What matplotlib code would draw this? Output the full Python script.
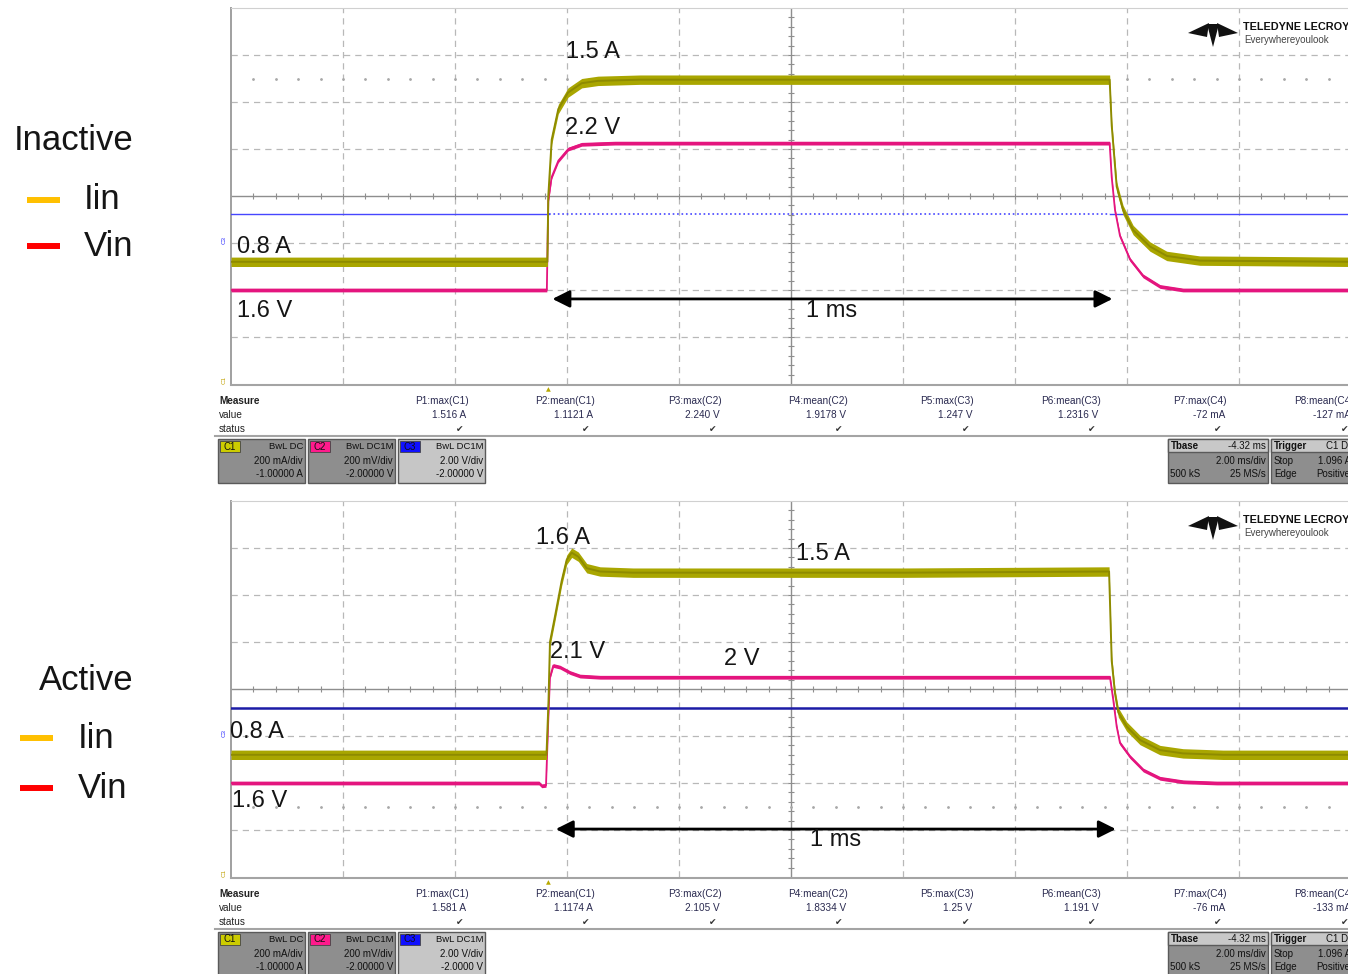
import numpy as np
import matplotlib.pyplot as plt
from matplotlib.patches import Rectangle, Polygon
from matplotlib.lines import Line2D

plt.rcParams['font.family'] = ['Liberation Sans', 'DejaVu Sans']

W, H = 1348, 974

# time in ms (0.2 ms/div), Iin in A (C1), Vin in V (C2), C3 in V
# --- Inactive capture ---
t_iin_off = [0, 0.565, 0.5666, 0.5727, 0.5845, 0.6018, 0.6263, 0.6554, 0.73, 1.20,
             1.5690, 1.5727, 1.5816, 1.593, 1.611, 1.641, 1.671, 1.730, 2.0]
iin_off = [0.72, 0.72, 1.00, 1.24, 1.37, 1.44, 1.48, 1.49, 1.495, 1.495,
           1.495, 1.30, 1.04, 0.94, 0.855, 0.785, 0.745, 0.725, 0.72]
t_vin_off = [0, 0.564, 0.5666, 0.5725, 0.5845, 0.6023, 0.6263, 0.686,
             1.5690, 1.5727, 1.5786, 1.5875, 1.6054, 1.6286, 1.6589, 1.70, 2.0]
vin_off = [1.60, 1.60, 1.98, 2.08, 2.15, 2.20, 2.22, 2.225,
           2.225, 2.08, 1.94, 1.83, 1.73, 1.66, 1.615, 1.60, 1.60]
t_c3_off = [0, 0.567, 1.569, 2.0]
c3_off = [1.234, 1.25, 1.234]

# --- Active capture ---
t_iin_on = [0, 0.5634, 0.567, 0.5696, 0.5786, 0.5905, 0.5995, 0.6084, 0.6202, 0.6352,
            0.659, 0.718, 1.20, 1.5680, 1.5727, 1.5786, 1.5845, 1.5995, 1.6232, 1.6589,
            1.70, 1.7714, 2.0]
iin_on = [0.72, 0.72, 0.95, 1.20, 1.31, 1.46, 1.55, 1.58, 1.563, 1.514,
          1.50, 1.495, 1.495, 1.50, 1.12, 0.98, 0.90, 0.84, 0.783, 0.74,
          0.726, 0.72, 0.72]
t_vin_on = [0, 0.55, 0.5548, 0.5625, 0.5666, 0.5696, 0.5755, 0.5875, 0.6054, 0.6232,
            0.659, 1.5696, 1.5755, 1.5816, 1.5875, 1.6054, 1.6291, 1.6589, 1.7005,
            1.7601, 2.0]
vin_on = [1.60, 1.60, 1.588, 1.59, 1.87, 2.05, 2.10, 2.093, 2.07, 2.055,
          2.05, 2.05, 1.953, 1.84, 1.77, 1.712, 1.655, 1.62, 1.605,
          1.60, 1.60]
t_c3_on = [0, 2.0]
c3_on = [1.19]

pulse_ms = 1.0

meas_names = ["P1:max(C1)", "P2:mean(C1)", "P3:max(C2)", "P4:mean(C2)",
              "P5:max(C3)", "P6:mean(C3)", "P7:max(C4)", "P8:mean(C4)"]
meas_off = ["1.516 A", "1.1121 A", "2.240 V", "1.9178 V",
            "1.247 V", "1.2316 V", "-72 mA", "-127 mA"]
meas_on = ["1.581 A", "1.1174 A", "2.105 V", "1.8334 V",
           "1.25 V", "1.191 V", "-76 mA", "-133 mA"]

ch_names = ["C1", "C2", "C3"]
ch_coupling = ["BwL DC", "BwL DC1M", "BwL DC1M"]
ch_scale = ["200 mA/div", "200 mV/div", "2.00 V/div"]
ch_offset_off = ["-1.00000 A", "-2.00000 V", "-2.00000 V"]
ch_offset_on = ["-1.00000 A", "-2.00000 V", "-2.0000 V"]

YEL = '#a9a600'
YEL_EDGE = '#8e8b00'
MAG = '#e4157e'
GRID = '#b8b8b8'
TXT = '#151515'

fig = plt.figure(figsize=(W / 100, H / 100), dpi=100)


def fx(px):
    return px / W


def fy(py):
    return 1 - py / H


def ftext(px, py, s, **kw):
    kw.setdefault('va', 'center')
    kw.setdefault('ha', 'left')
    fig.text(fx(px), fy(py), s, **kw)


def fline(x0, x1, y0, y1, **kw):
    fig.add_artist(Line2D([fx(x0), fx(x1)], [fy(y0), fy(y1)], **kw))


def frect(x0, y0, x1, y1, **kw):
    fig.add_artist(Rectangle((fx(x0), fy(y1)), (x1 - x0) / W, (y1 - y0) / H, **kw))


def screen(top, t_i, iv, t_v, vv, t_c3, c3v, c3_color, c3_lw, dot_row, arrow_x, arrow_y):
    ax = fig.add_axes([fx(231), fy(top + 376), 1120 / W, 376 / H])
    ax.set_xlim(0, 2.0)
    ax.set_ylim(-4, 4)
    ax.set_xticks([])
    ax.set_yticks([])
    for side in ['right', 'bottom']:
        ax.spines[side].set_visible(False)
    ax.spines['left'].set_color('#a0a0a0')
    ax.spines['left'].set_linewidth(1.4)
    ax.spines['top'].set_color('#d0d0d0')

    # graticule
    for k in range(1, 10):
        if k == 5:
            ax.axvline(0.2 * k, color='#8e8e8e', lw=1.0)
        else:
            ax.axvline(0.2 * k, color=GRID, lw=0.9, ls=(0, (5, 4)))
    for j in range(-3, 4):
        if j == 0:
            ax.axhline(0, color='#8e8e8e', lw=1.0)
        else:
            ax.axhline(j, color=GRID, lw=0.9, ls=(0, (5, 4)))
    minor_x = np.arange(0.04, 2.0, 0.04)
    minor_y = np.arange(-3.8, 4.0, 0.2)
    ax.plot(minor_x, np.zeros_like(minor_x), ls='none', marker='|', ms=5,
            mew=0.8, color='#8e8e8e')
    ax.plot(np.full_like(minor_y, 1.0), minor_y, ls='none', marker='_', ms=5,
            mew=0.8, color='#8e8e8e')
    ax.plot(minor_x, np.full_like(minor_x, dot_row), ls='none', marker='.', ms=2,
            color='#a8a8a8')

    # 1 ms marker
    ax.annotate('', xy=(arrow_x, arrow_y), xytext=(arrow_x + pulse_ms, arrow_y),
                arrowprops=dict(arrowstyle='<|-|>', color='black', lw=2,
                                mutation_scale=26, shrinkA=0, shrinkB=0))

    # channel axes, each with its own volts/amps per division
    c3 = ax.twinx()
    c3.set_ylim(-6, 10)
    c3.axis('off')
    c2 = ax.twinx()
    c2.set_ylim(1.2, 2.8)
    c2.axis('off')
    c1 = ax.twinx()
    c1.set_ylim(0.2, 1.8)
    c1.axis('off')

    for s in range(len(c3v)):
        ls = ':' if (len(c3v) == 3 and s == 1) else '-'
        lw = 1.2 if ls == ':' else c3_lw
        c3.plot(t_c3[s:s + 2], [c3v[s], c3v[s]], color=c3_color, lw=lw, ls=ls)

    t_v = np.array(t_v)
    vv = np.array(vv)
    c2.fill_between(t_v, vv - 0.008, vv + 0.008, color=MAG, lw=0)
    c2.plot(t_v, vv, color=MAG, lw=1.3)

    t_i = np.array(t_i)
    iv = np.array(iv)
    c1.fill_between(t_i, iv - 0.02, iv + 0.02, color=YEL, lw=0)
    c1.plot(t_i, iv, color=YEL_EDGE, lw=1.4)
    return ax


def readout(dy, values, offsets):
    fline(231, 1348, 385 + dy, 385 + dy, color='#a4a4a4', lw=1.5)
    fline(215, 1348, 436 + dy, 436 + dy, color='#a4a4a4', lw=1.5)
    ftext(548, 390 + dy, '▲', fontsize=4.5, color='#b8a800', ha='center',
          family='DejaVu Sans')
    ftext(219, 401 + dy, "Measure", fontsize=7.2, fontweight='bold', color='#222')
    ftext(219, 415 + dy, "value", fontsize=7.2, color='#222')
    ftext(219, 429 + dy, "status", fontsize=7.2, color='#222')
    for k, name in enumerate(meas_names):
        xr = 468.5 + 126.4 * k
        ftext(xr, 401 + dy, name, fontsize=7.2, ha='right', color='#2a2a50')
        ftext(xr - 2, 415 + dy, values[k], fontsize=7.2, ha='right', color='#2a2a50')
        ftext(xr - 5, 430 + dy, '✔', fontsize=6.5, ha='right', color='#333',
              family='DejaVu Sans')

    # channel setup boxes
    chip_colors = ['#cccc00', '#ff1a8c', '#1010ff']
    fills = ['#8e8e8e', '#8e8e8e', '#c6c6c6']
    for i, name in enumerate(ch_names):
        x0 = 218 + 90 * i
        frect(x0, 439 + dy, x0 + 87, 483 + dy, facecolor=fills[i],
              edgecolor='#5a5a5a', lw=1)
        frect(x0 + 2, 441 + dy, x0 + 22, 452 + dy, facecolor=chip_colors[i],
              edgecolor='#444', lw=0.6)
        ftext(x0 + 12, 446.5 + dy, name, fontsize=7, ha='center', color='#111')
        ftext(x0 + 85, 446.5 + dy, ch_coupling[i], fontsize=6.8, ha='right', color='#111')
        ftext(x0 + 85, 461 + dy, ch_scale[i], fontsize=7, ha='right', color='#111')
        ftext(x0 + 85, 474 + dy, offsets[i], fontsize=7, ha='right', color='#111')

    # timebase / trigger boxes
    for x0, x1 in [(1168, 1268), (1271, 1390)]:
        frect(x0, 439 + dy, x1, 483 + dy, facecolor='#8e8e8e', edgecolor='#5a5a5a', lw=1)
        frect(x0, 439 + dy, x1, 452 + dy, facecolor='#c8c8c8', edgecolor='#5a5a5a', lw=1)
    ftext(1171, 446 + dy, "Tbase", fontsize=7, fontweight='bold', color='#111')
    ftext(1266, 446 + dy, "-4.32 ms", fontsize=7, ha='right', color='#111')
    ftext(1266, 461 + dy, "2.00 ms/div", fontsize=7, ha='right', color='#111')
    ftext(1170, 474 + dy, "500 kS", fontsize=7, color='#111')
    ftext(1266, 474 + dy, "25 MS/s", fontsize=7, ha='right', color='#111')
    ftext(1274, 446 + dy, "Trigger", fontsize=7, fontweight='bold', color='#111')
    ftext(1326, 446 + dy, "C1 DC", fontsize=7, color='#111')
    ftext(1274, 461 + dy, "Stop", fontsize=7, color='#111')
    ftext(1318, 461 + dy, "1.096 A", fontsize=7, color='#111')
    ftext(1274, 474 + dy, "Edge", fontsize=7, color='#111')
    ftext(1316, 474 + dy, "Positive", fontsize=7, color='#111')


def logo(dy):
    pts_l = [(1188, 33 + dy), (1209, 23 + dy), (1207, 37 + dy)]
    pts_r = [(1238, 33 + dy), (1217, 23 + dy), (1219, 37 + dy)]
    pts_c = [(1207, 24 + dy), (1219, 24 + dy), (1213, 47 + dy)]
    for pts in (pts_l, pts_r, pts_c):
        fig.add_artist(Polygon([(fx(a), fy(b)) for a, b in pts], closed=True,
                               facecolor='#111', edgecolor='none'))
    ftext(1243, 27 + dy, "TELEDYNE LECROY", fontsize=7.8, fontweight='bold',
          color='#111')
    ftext(1244, 40 + dy, "Everywhereyoulook", fontsize=7, color='#444')


# top screen: inactive
screen(8, t_iin_off, iin_off, t_vin_off, vin_off, t_c3_off, c3_off,
       '#4646ff', 1.0, 2.5, 0.574, -2.19)
readout(0, meas_off, ch_offset_off)
logo(0)

# bottom screen: active
screen(501, t_iin_on, iin_on, t_vin_on, vin_on, t_c3_on, c3_on,
       '#1c1ca6', 1.8, -2.5, 0.580, -2.98)
readout(493, meas_on, ch_offset_on)
logo(493)

# channel markers on the left edge
for dy in (0, 493):
    ftext(224, 240 + dy, "C3", fontsize=4.5, rotation=90, ha='center', color='#3030ff')
    ftext(224, 380 + dy, "C1", fontsize=4.5, rotation=90, ha='center', color='#c0a000')

# level annotations
lab = dict(fontsize=17, color=TXT)
ftext(566, 52, "1.5 A", **lab)
ftext(565, 128, "2.2 V", **lab)
ftext(237, 247, "0.8 A", **lab)
ftext(237, 311, "1.6 V", **lab)
ftext(806, 311, "1 ms", **lab)

ftext(536, 538, "1.6 A", **lab)
ftext(796, 554, "1.5 A", **lab)
ftext(550, 652, "2.1 V", **lab)
ftext(724, 659, "2 V", **lab)
ftext(230, 732, "0.8 A", **lab)
ftext(232, 801, "1.6 V", **lab)
ftext(810, 840, "1 ms", **lab)

# legends
leg = dict(fontsize=25, color=TXT)
ftext(14, 140, "Inactive", **leg)
fline(27, 60, 200, 200, color='#ffc000', lw=4.3, solid_capstyle='butt')
fline(27, 60, 246, 246, color='#ff0000', lw=4.3, solid_capstyle='butt')
ftext(84, 200, "Iin", **leg)
ftext(84, 246, "Vin", **leg)

ftext(39, 681, "Active", **leg)
fline(20, 53, 738, 738, color='#ffc000', lw=4.3, solid_capstyle='butt')
fline(20, 53, 788, 788, color='#ff0000', lw=4.3, solid_capstyle='butt')
ftext(78, 738, "Iin", **leg)
ftext(78, 789, "Vin", **leg)

fig.savefig('out.png', dpi=100)
